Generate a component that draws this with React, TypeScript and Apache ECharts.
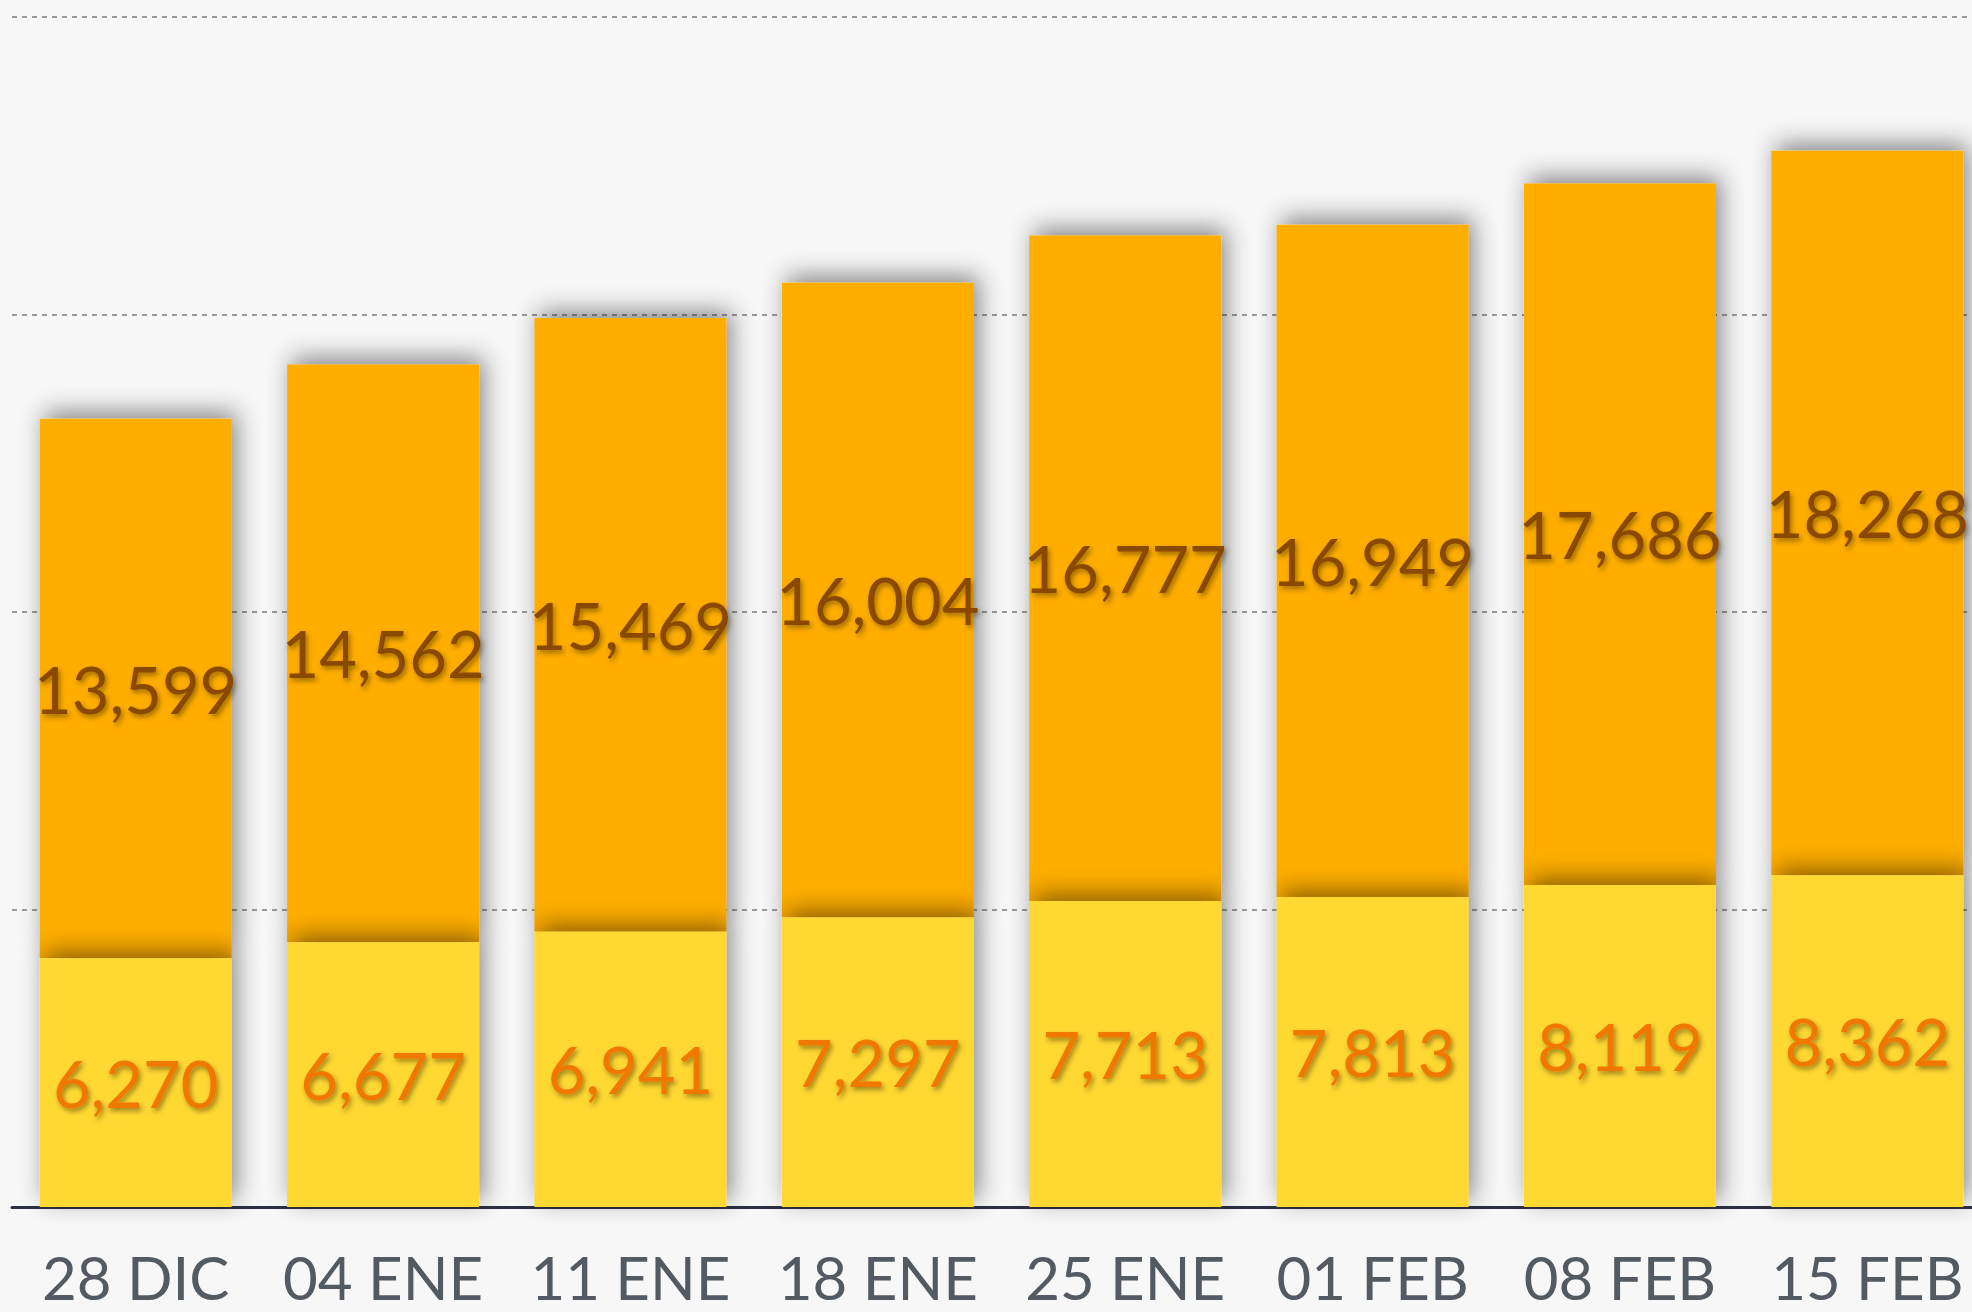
import React, { useEffect, useRef } from "react";
import * as echarts from "echarts";

const categories = ["28 DIC", "04 ENE", "11 ENE", "18 ENE", "25 ENE", "01 FEB", "08 FEB", "15 FEB"];
const bottomValues = [6270, 6677, 6941, 7297, 7713, 7813, 8119, 8362];
const topValues = [13599, 14562, 15469, 16004, 16777, 16949, 17686, 18268];
const yMax = 30000;
const yInterval = 7500;

const fmt = (v: number) => v.toLocaleString("en-US");

export default function App() {
  const ref = useRef<HTMLDivElement>(null);
  useEffect(() => {
    if (!ref.current) return;
    const chart = echarts.init(ref.current, undefined, { renderer: "svg" });
    const shadow = {
      shadowBlur: 24,
      shadowColor: "rgba(0,0,0,0.45)",
      shadowOffsetX: 5,
      shadowOffsetY: -7,
    };
    const labelBase = {
      show: true,
      position: "inside" as const,
      fontFamily: "Lato, 'Noto Sans', sans-serif",
      fontSize: 65,
      textShadowColor: "rgba(60,40,0,0.5)",
      textShadowBlur: 5,
      textShadowOffsetX: 2,
      textShadowOffsetY: 3,
      formatter: (p: any) => fmt(p.value),
    };
    chart.setOption({
      animation: false,
      backgroundColor: "#f7f7f7",
      grid: { left: 12, right: 0, top: 17, bottom: 105 },
      xAxis: {
        type: "category",
        data: categories,
        axisLine: { show: true, lineStyle: { color: "#2b3140", width: 3 } },
        axisTick: { show: false },
        axisLabel: {
          interval: 0,
          color: "#535a62",
          fontFamily: "Lato, 'Noto Sans', sans-serif",
          fontSize: 60,
          margin: 40,
        },
      },
      yAxis: {
        type: "value",
        min: 0,
        max: yMax,
        interval: yInterval,
        axisLabel: { show: false },
        axisLine: { show: false },
        axisTick: { show: false },
        splitLine: { lineStyle: { color: "#9a9a9a", type: [5, 5], width: 2 } },
      },
      series: [
        {
          type: "bar",
          stack: "total",
          data: bottomValues,
          barCategoryGap: "22.4%",
          z: 3,
          itemStyle: { color: "#ffd933", ...shadow },
          label: { ...labelBase, color: "#f07800" },
        },
        {
          type: "bar",
          stack: "total",
          data: topValues,
          barCategoryGap: "22.4%",
          z: 2,
          itemStyle: { color: "#ffae00", ...shadow },
          label: { ...labelBase, color: "#8a4a00" },
        },
      ],
    });
    return () => chart.dispose();
  }, []);
  return (
    <div
      style={{
        position: "absolute",
        left: 0,
        top: 0,
        width: 1972,
        height: 1312,
        overflow: "hidden",
        background: "#f7f7f7",
      }}
    >
      <div ref={ref} style={{ width: 1991, height: 1312 }} />
    </div>
  );
}
